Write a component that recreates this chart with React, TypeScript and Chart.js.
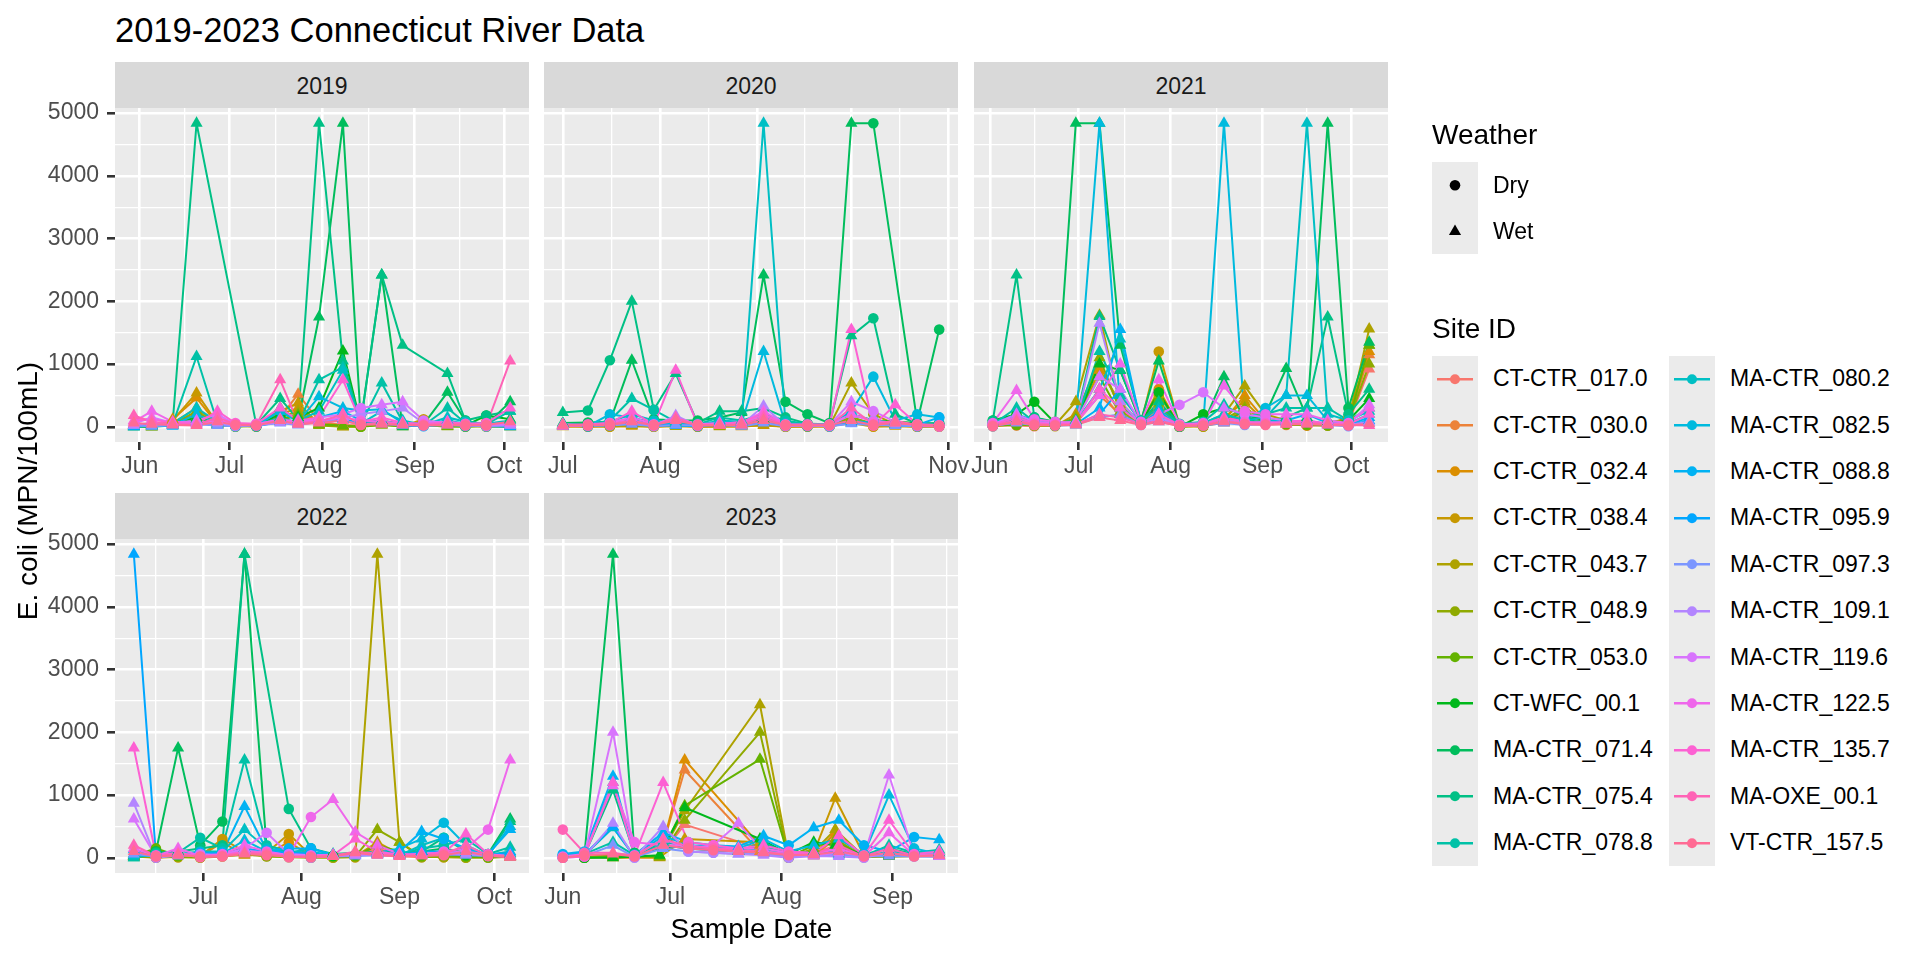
import React, { useEffect, useRef } from "react";
import { Chart, registerables } from "chart.js";
Chart.register(...registerables);

const FONT = '"Liberation Sans", Arial, Helvetica, sans-serif';

// ---------------- data ----------------
const siteIds = [
  "CT-CTR_017.0", "CT-CTR_030.0", "CT-CTR_032.4", "CT-CTR_038.4", "CT-CTR_043.7",
  "CT-CTR_048.9", "CT-CTR_053.0", "CT-WFC_00.1", "MA-CTR_071.4", "MA-CTR_075.4",
  "MA-CTR_078.8", "MA-CTR_080.2", "MA-CTR_082.5", "MA-CTR_088.8", "MA-CTR_095.9",
  "MA-CTR_097.3", "MA-CTR_109.1", "MA-CTR_119.6", "MA-CTR_122.5", "MA-CTR_135.7",
  "MA-OXE_00.1", "VT-CTR_157.5",
];
const weatherLevels = ["Dry", "Wet"];
const monthLabels = ["Jan", "Feb", "Mar", "Apr", "May", "Jun", "Jul", "Aug", "Sep", "Oct", "Nov", "Dec"];
const yBreaks = [0, 1000, 2000, 3000, 4000, 5000];
const yMinorBreaks = [500, 1500, 2500, 3500, 4500];
const years = [2019, 2020, 2021, 2022, 2023];

const n = null;

const dates2019 = ["05-30", "06-05", "06-12", "06-20", "06-27", "07-03", "07-10", "07-18", "07-24", "07-31", "08-08", "08-14", "08-21", "08-28", "09-04", "09-12", "09-18", "09-25", "10-03"];
const weatherCT2019 = ["W", "W", "W", "W", "W", "D", "D", "W", "W", "W", "W", "D", "W", "W", "D", "W", "D", "D", "W"];
const weatherMA2019 = ["W", "W", "W", "W", "W", "D", "D", "W", "W", "W", "W", "D", "W", "W", "D", "W", "D", "D", "W"];
const values2019 = [
  [40, 20, 60, 150, 80, 30, 20, 90, 200, 60, 30, 20, 40, 30, 20, 10, 20, 60, 30],
  [30, 10, 80, 200, 60, 20, 30, 150, 520, 90, 20, 10, 60, 20, 30, 20, 10, 80, 20],
  [20, 0, 120, 460, 40, 20, 10, 200, 300, 50, 0, 10, 30, 20, 90, 10, 30, 20, 10],
  [10, 0, 100, 540, 50, 10, 20, 250, 380, 40, 0, 20, 50, 10, 120, 20, 10, 30, 20],
  [0, 10, 60, 300, 30, 20, 0, 150, 250, 30, 10, 0, 80, 20, 60, 10, 20, 10, 0],
  [10, 0, 40, 250, 20, 10, 10, 100, 200, 20, 0, 10, 40, 0, 30, 0, 10, 0, 10],
  [20, 10, 30, 200, 40, 0, 20, 120, 180, 40, 20, 0, 30, 10, 20, 10, 0, 20, 0],
  [30, 20, 50, 150, 60, 20, 30, 200, 150, 300, 1210, 50, 100, 40, 30, 60, 20, 180, 120],
  [10, 0, 20, 120, 40, 30, 10, 300, 100, 1750, 4840, 80, 2420, 0, 40, 550, 100, 30, 400],
  [0, 10, 60, 4840, n, n, 30, 450, 120, 4840, 1050, 60, 2420, 1300, n, 850, 100, 180, 250],
  [0, 20, 40, 1120, 60, 40, 20, 150, 60, 750, 950, 40, 700, 80, 20, 300, 60, 40, 250],
  [10, 30, 50, 300, 80, 20, 30, 250, 100, 250, 900, 50, 250, 100, 30, 150, 80, 50, 100],
  [20, 40, 30, 200, 60, 30, 20, 250, 80, 480, 300, 260, 280, 60, 40, 100, 50, 30, 60],
  [0, 20, 10, 80, 40, 10, 20, 120, 50, 150, 250, 100, 90, 40, 20, 60, 20, 10, 0],
  [10, 30, 20, 60, 30, 20, 10, 80, 40, 100, 120, 60, 50, 20, 10, 40, 10, 20, 10],
  [20, 10, 30, 40, 20, 10, 20, 60, 30, 80, 100, 40, 60, 30, 20, 30, 20, 10, 20],
  [30, 60, 40, 80, 60, 20, 30, 70, 40, 90, 150, 200, 250, 300, 60, 80, 30, 20, 30],
  [50, 150, 60, 100, 200, 40, 50, 100, 60, 150, 200, 300, 350, 400, 100, 60, 40, 30, 50],
  [80, 250, 80, 60, 100, 50, 40, 120, 80, 100, 150, 100, 80, 60, 50, 40, 30, 40, 60],
  [100, 120, 60, 50, 250, 60, 50, 300, 100, 150, 750, 80, 150, 60, 40, 80, 50, 60, 300],
  [180, 80, 40, 30, 150, 40, 30, 750, 60, 80, 200, 40, 60, 40, 30, 50, 40, 20, 1050],
  [60, 40, 30, 20, 80, 30, 20, 100, 40, 60, 100, 30, 40, 30, 20, 30, 20, 30, 80],
];

const dates2020 = ["07-01", "07-09", "07-16", "07-23", "07-30", "08-06", "08-13", "08-20", "08-27", "09-03", "09-10", "09-17", "09-24", "10-01", "10-08", "10-15", "10-22", "10-29"];
const weatherCT2020 = ["W", "D", "D", "W", "D", "W", "D", "W", "W", "W", "D", "D", "D", "W", "D", "W", "D", "D"];
const weatherMA2020 = ["W", "D", "D", "W", "D", "W", "D", "W", "W", "W", "D", "D", "D", "W", "D", "W", "D", "D"];
const values2020 = [
  [20, 10, 20, 30, 10, 20, 10, 20, 30, 60, 10, 20, 10, 150, 30, 60, 20, 10],
  [30, 20, 10, 40, 20, 30, 20, 10, 20, 80, 20, 10, 20, 120, 20, 40, 10, 20],
  [10, 0, 10, 20, 0, 20, 0, 10, 0, 30, 0, 10, 0, 80, 10, 20, 0, 0],
  [0, 10, 0, 10, 0, 10, 0, 0, 10, 20, 0, 0, 10, 60, 0, 10, 0, 10],
  [10, 20, 10, 30, 10, 20, 10, 20, 10, 50, 10, 20, 10, 700, 200, 40, 10, 20],
  [20, 10, 20, 40, 20, 10, 20, 10, 20, 60, 20, 10, 20, 150, 50, 30, 20, 10],
  [10, 20, 30, 50, 20, 30, 20, 30, 40, 80, 20, 30, 20, 100, 40, 50, 30, 20],
  [40, 60, 50, 100, 60, 80, 50, 60, 80, 120, 60, 50, 40, 200, 100, 80, 60, 50],
  [60, 70, 80, 1060, 120, 100, 100, 150, 230, 2420, 400, 200, 60, 4840, 4840, n, 80, 1550],
  [230, 260, 1060, 2000, 270, 850, 60, 250, 250, 300, 150, 50, 40, 1450, 1730, 200, 50, 60],
  [50, 30, 100, 450, 270, 80, 40, 150, 100, 200, 100, 40, 30, 200, 100, 60, 40, 30],
  [30, 20, 80, 200, 100, 60, 30, 100, 80, 4840, 60, 30, 20, 100, 60, 40, 30, 20],
  [20, 10, 200, 150, 60, 40, 20, 80, 60, 1200, 40, 20, 10, 250, 800, 100, 200, 150],
  [10, 20, 50, 100, 40, 30, 20, 60, 40, 150, 30, 20, 10, 80, 60, 40, 30, 150],
  [20, 10, 30, 60, 20, 20, 10, 40, 20, 80, 20, 10, 20, 60, 40, 20, 10, 20],
  [10, 20, 20, 40, 10, 30, 20, 30, 10, 60, 10, 20, 10, 50, 30, 20, 10, 10],
  [20, 30, 40, 80, 20, 180, 20, 40, 30, 330, 20, 30, 20, 200, 100, 60, 20, 10],
  [30, 20, 50, 100, 30, 150, 30, 50, 40, 200, 30, 20, 30, 400, 250, 80, 30, 20],
  [40, 30, 60, 150, 40, 120, 40, 60, 50, 250, 40, 30, 40, 200, 80, 60, 40, 30],
  [20, 40, 60, 250, 30, 900, 30, 40, 80, 200, 30, 40, 30, 1550, 20, 350, 40, 10],
  [10, 30, 40, 100, 20, 150, 20, 30, 40, 150, 20, 30, 20, 300, 40, 100, 20, 10],
  [30, 20, 30, 80, 30, 100, 30, 20, 30, 100, 30, 20, 30, 100, 30, 60, 30, 20],
];

const dates2021 = ["06-02", "06-10", "06-16", "06-23", "06-30", "07-08", "07-15", "07-22", "07-28", "08-04", "08-12", "08-19", "08-26", "09-02", "09-09", "09-16", "09-23", "09-30", "10-07"];
const weatherCT2021 = ["D", "D", "D", "D", "W", "W", "W", "D", "D", "D", "D", "W", "W", "D", "D", "D", "D", "D", "W"];
const weatherMA2021 = ["D", "W", "D", "D", "W", "W", "W", "D", "W", "D", "D", "W", "D", "D", "W", "W", "W", "D", "W"];
const values2021 = [
  [20, 30, 10, 20, 40, 600, 150, 60, 300, 20, 10, 80, 200, 60, 40, 20, 30, 60, 920],
  [30, 20, 20, 30, 60, 500, 200, 40, 250, 10, 20, 60, 300, 80, 30, 30, 20, 80, 1150],
  [10, 40, 30, 20, 80, 900, 400, 50, 600, 0, 10, 100, 500, 100, 50, 20, 40, 150, 1200],
  [20, 50, 20, 10, 200, 1000, 300, 60, 1200, 20, 0, 150, 400, 80, 60, 40, 20, 100, 1300],
  [40, 60, 30, 30, 400, 1780, 350, 80, 500, 30, 20, 200, 650, 200, 100, 50, 60, 120, 1560],
  [30, 40, 20, 20, 150, 1100, 250, 60, 350, 20, 10, 120, 300, 100, 50, 30, 40, 80, 1000],
  [20, 30, 40, 30, 100, 800, 200, 50, 400, 0, 20, 80, 250, 60, 40, 30, 20, 60, 1300],
  [100, 200, 400, 60, 80, 1000, 900, 60, 550, 0, 200, 300, 200, 100, 80, 60, 50, 100, 450],
  [60, 100, 150, 80, 4840, 4840, 1300, 100, 1050, 30, 50, 800, 100, 200, 930, 150, 4840, 300, 1350],
  [100, 2420, 150, 60, 100, 1760, 900, 80, 400, 50, 60, 200, 100, 80, 150, 300, 1750, 200, 600],
  [40, 300, 80, 50, 60, 1200, 500, 100, 300, 40, 80, 350, 150, 200, 300, 300, 300, 100, 300],
  [30, 150, 60, 40, 80, 600, 1400, 60, 200, 30, 60, 200, 100, 150, 500, 4840, 200, 100, 250],
  [50, 200, 100, 40, 60, 4840, 300, 80, 150, 40, 30, 4840, 100, 300, 500, 500, 100, 50, 200],
  [20, 100, 50, 30, 40, 300, 1550, 50, 100, 20, 40, 100, 50, 80, 100, 200, 60, 30, 150],
  [10, 80, 40, 20, 30, 200, 600, 40, 250, 10, 30, 80, 40, 60, 80, 100, 40, 20, 100],
  [20, 60, 30, 30, 40, 150, 200, 30, 80, 20, 20, 60, 30, 40, 60, 80, 30, 10, 60],
  [30, 100, 50, 40, 60, 1650, 400, 50, 150, 30, 40, 120, 60, 80, 50, 60, 50, 30, 80],
  [40, 200, 80, 60, 80, 800, 600, 60, 200, 350, 550, 300, 200, 150, 100, 80, 60, 50, 350],
  [60, 580, 120, 80, 60, 500, 1000, 80, 750, 40, 60, 650, 250, 200, 200, 200, 100, 60, 300],
  [30, 150, 60, 40, 50, 600, 300, 50, 200, 30, 40, 150, 80, 60, 80, 100, 50, 40, 200],
  [20, 100, 40, 30, 40, 200, 150, 40, 100, 20, 30, 100, 50, 40, 50, 60, 40, 30, 20],
  [10, 80, 30, 20, 30, 150, 100, 30, 80, 10, 20, 80, 40, 30, 40, 40, 30, 20, 50],
];

const dates2022 = ["06-09", "06-16", "06-23", "06-30", "07-07", "07-14", "07-21", "07-28", "08-04", "08-11", "08-18", "08-25", "09-01", "09-08", "09-15", "09-22", "09-29", "10-06"];
const weatherCT2022 = ["W", "D", "D", "D", "D", "W", "D", "D", "D", "D", "D", "W", "W", "D", "D", "D", "D", "W"];
const weatherMA2022 = ["W", "D", "W", "D", "D", "W", "D", "D", "D", "W", "W", "W", "W", "W", "D", "W", "D", "W"];
const values2022 = [
  [20, 10, 30, 20, 40, 60, 30, 20, 10, 20, 30, 150, 40, 20, 30, 40, 20, 30],
  [10, 20, 20, 10, 60, 80, 40, 30, 20, 10, 20, 100, 30, 10, 20, 30, 10, 20],
  [30, 10, 10, 20, 250, 40, 60, 250, 30, 20, 10, 200, 50, 20, 10, 20, 30, 10],
  [20, 0, 20, 30, 300, 100, 80, 380, 40, 30, 20, 250, 60, 30, 20, 10, 20, 20],
  [10, 20, 10, 0, 20, 50, 30, 20, 10, 0, 10, 4840, 250, 20, 10, 0, 10, 10],
  [20, 10, 20, 10, 30, 80, 20, 10, 0, 10, 20, 450, 250, 10, 20, 10, 0, 20],
  [30, 150, 30, 20, 40, 100, 40, 30, 20, 20, 30, 200, 100, 30, 40, 20, 10, 30],
  [40, 100, 60, 50, 80, 150, 60, 50, 40, 30, 50, 100, 80, 50, 60, 40, 30, 60],
  [60, 100, 1750, 200, 580, 4840, 150, 100, 60, 40, 80, 60, 50, 100, 150, 80, 60, 620],
  [0, 80, 100, 150, 200, 4840, n, 780, 150, 60, 80, 60, 50, 100, 320, 100, 40, 580],
  [0, 60, 80, 320, 150, 1560, 200, 100, 80, 50, 60, 80, 60, 150, 200, 300, 60, 170],
  [30, 40, 60, 100, 100, 450, 150, 80, 150, 40, 60, 100, 40, 200, 320, 120, 50, 100],
  [50, 20, 40, 80, 60, 280, 100, 60, 100, 30, 40, 80, 150, 300, 560, 200, 40, 500],
  [130, 30, 60, 60, 80, 820, 120, 150, 150, 50, 40, 60, 100, 420, 300, 150, 60, 450],
  [4840, 40, 50, 80, 60, 150, 100, 80, 60, 30, 50, 60, 40, 100, 100, 80, 40, 80],
  [60, 20, 30, 50, 40, 100, 60, 40, 30, 20, 30, 40, 30, 60, 60, 40, 30, 40],
  [870, 0, 40, 60, 40, 120, 80, 50, 0, 30, 40, 50, 20, 40, 50, 60, 30, 20],
  [620, 20, 60, 40, 50, 150, 400, 60, 40, 50, 60, 80, 40, 60, 80, 100, 50, 30],
  [150, 30, 150, 30, 60, 200, 100, 40, 650, 930, 410, 200, 60, 40, 100, 150, 450, 1560],
  [1750, 40, 80, 20, 40, 100, 80, 20, 30, 40, 300, 100, 50, 60, 80, 380, 60, 20],
  [200, 30, 60, 10, 30, 80, 60, 10, 20, 30, 100, 60, 30, 40, 60, 200, 40, 10],
  [100, 20, 40, 20, 20, 60, 40, 20, 10, 20, 80, 40, 20, 30, 40, 100, 30, 20],
];

const dates2023 = ["06-01", "06-07", "06-15", "06-21", "06-28", "06-29", "07-05", "07-06", "07-13", "07-20", "07-26", "07-27", "08-03", "08-10", "08-16", "08-17", "08-24", "08-31", "09-07", "09-14"];
const weatherCT2023 = ["D", "D", "W", "D", "W", "W", "W", "D", "D", "W", "W", "W", "D", "W", "W", "W", "D", "W", "D", "W"];
const weatherMA2023 = ["D", "D", "W", "D", "W", "W", "W", "D", "D", "W", "W", "W", "D", "W", "W", "W", "D", "W", "D", "W"];
const values2023 = [
  [n, 10, 20, n, 30, n, 530, n, n, n, 150, n, 40, 60, 200, n, 30, 50, n, 80],
  [n, 0, 10, n, 20, n, 1400, n, n, n, 100, n, 20, 30, 300, n, 20, 40, n, 60],
  [n, 20, 0, n, 0, n, 1560, n, n, n, 200, n, 30, 40, 400, n, 30, 20, n, 40],
  [n, 10, 30, n, 10, n, 300, n, n, n, 250, n, 50, 80, 950, n, 40, 30, n, 50],
  [n, 0, 60, n, 20, n, 750, n, n, n, 2440, n, 20, 100, 450, n, 20, 30, n, 40],
  [n, 10, 40, n, 10, n, 600, n, n, n, 2000, n, 0, 150, 300, n, 10, 20, n, 30],
  [n, 0, 20, n, 30, n, 830, n, n, n, 1570, n, 10, 200, 250, n, 30, 40, n, 20],
  [n, 0, 0, n, 40, n, 800, n, n, n, 300, n, 60, 250, 200, n, 50, 30, n, 100],
  [20, 30, 4840, 80, n, 150, n, 200, 150, 100, n, 80, 60, 100, n, 80, 40, 60, 50, 40],
  [0, 40, 1080, 60, n, 200, n, 150, 120, 100, n, 250, 50, 80, n, 100, 50, 150, 60, 80],
  [30, 60, 250, 40, n, 250, n, 180, 150, 120, n, 200, 40, 60, n, 60, 30, 200, 80, 130],
  [10, 40, 480, 20, n, 300, n, 160, 140, 100, n, 150, 30, 50, n, 50, 20, 100, 60, 100],
  [40, 80, 1200, 30, n, 350, n, 200, 180, 150, n, 300, 100, 200, n, 300, 60, 1000, 150, 60],
  [60, 100, 1300, 50, n, 400, n, 250, 200, 180, n, 350, 200, 480, n, 600, 200, 100, 330, 290],
  [20, 50, 500, 20, n, 200, n, 150, 120, 100, n, 100, 40, 80, n, 100, 30, 60, 40, 30],
  [10, 30, 200, 10, n, 150, n, 100, 80, 60, n, 60, 20, 50, n, 40, 20, 30, 20, 20],
  [0, 20, 550, 0, n, 500, n, 100, 80, 60, n, 40, 0, 30, n, 20, 0, 80, 30, 20],
  [10, 40, 2000, 30, n, 300, n, 150, 200, 550, n, 100, 60, 40, n, 80, 30, 1320, 50, 60],
  [20, 60, 1150, 250, n, 200, n, 200, 150, 150, n, 150, 80, 60, n, 150, 20, 400, 40, 30],
  [0, 20, 1200, 40, n, 1200, n, 250, 200, 150, n, 200, 100, 80, n, 350, 40, 600, 60, 100],
  [450, 80, 80, 30, n, 300, n, 180, 150, 120, n, 100, 50, 60, n, 200, 20, 150, 30, 50],
  [0, 40, 60, 20, n, 200, n, 150, 120, 100, n, 80, 40, 50, n, 100, 30, 80, 20, 40],
];

const yearDates = [dates2019, dates2020, dates2021, dates2022, dates2023];
const yearWeatherCT = [weatherCT2019, weatherCT2020, weatherCT2021, weatherCT2022, weatherCT2023];
const yearWeatherMA = [weatherMA2019, weatherMA2020, weatherMA2021, weatherMA2022, weatherMA2023];
const yearValues = [values2019, values2020, values2021, values2022, values2023];

// ---------------- styling helpers ----------------
function hclHex(h: number, c = 100, l = 65): string {
  const hr = (h * Math.PI) / 180;
  const U = c * Math.cos(hr);
  const V = c * Math.sin(hr);
  const Xn = 95.047, Yn = 100.0, Zn = 108.883;
  const Y = Yn * Math.pow((l + 16) / 116, 3);
  const t = Xn + 15 * Yn + 3 * Zn;
  const un = (4 * Xn) / t;
  const vn = (9 * Yn) / t;
  const u = U / (13 * l) + un;
  const v = V / (13 * l) + vn;
  const X = (Y * 9 * u) / (4 * v);
  const Z = (Y * (12 - 3 * u - 20 * v)) / (4 * v);
  const lin = [
    (3.240479 * X - 1.53715 * Y - 0.498535 * Z) / 100,
    (-0.969256 * X + 1.875992 * Y + 0.041556 * Z) / 100,
    (0.055648 * X - 0.204043 * Y + 1.057311 * Z) / 100,
  ];
  return (
    "#" +
    lin
      .map((q) => {
        const g = q <= 0.0031308 ? 12.92 * q : 1.055 * Math.pow(q, 1 / 2.4) - 0.055;
        const b = Math.round(Math.max(0, Math.min(1, g)) * 255);
        return b.toString(16).padStart(2, "0");
      })
      .join("")
  );
}
const siteColors = siteIds.map((_, i) => hclHex(15 + (360 / siteIds.length) * i));

function doy(year: number, md: string): number {
  const [m, d] = md.split("-").map(Number);
  return (Date.UTC(year, m - 1, d) - Date.UTC(year, 0, 1)) / 86400000;
}

// y range with ggplot-like 5% expansion
const allVals: number[] = [];
yearValues.forEach((yv) => yv.forEach((row) => row.forEach((v) => { if (v !== null) allVals.push(v as number); })));
const yLo = Math.min(...allVals);
const yHi = Math.max(...allVals);
const Y_MIN = yLo - 0.05 * (yHi - yLo);
const Y_MAX = yHi + 0.05 * (yHi - yLo);

// ---------------- layout ----------------
const PANEL_W = 414;
const PANEL_H = 334;
const STRIP_H = 46;
const COL_LEFT = [115, 544, 974];
const ROW_TOP = [108, 539];
const PAD_T = 30;
const PAD_S = 45;
const YAXIS_W = 115;
const XAXIS_H = 60;

const panelBg = {
  id: "panelBg",
  beforeDraw(chart: any) {
    const { ctx, chartArea: a } = chart;
    ctx.save();
    ctx.fillStyle = "#EBEBEB";
    ctx.fillRect(a.left, a.top, a.right - a.left, a.bottom - a.top);
    ctx.restore();
  },
};

function Panel({ yi, col, row }: { yi: number; col: number; row: number }) {
  const ref = useRef<HTMLCanvasElement | null>(null);
  const showY = col === 0;
  const year = years[yi];
  const canvasLeft = showY ? COL_LEFT[col] - YAXIS_W : COL_LEFT[col] - PAD_S;
  const canvasW = (showY ? YAXIS_W : PAD_S) + PANEL_W + PAD_S;
  const canvasTop = ROW_TOP[row] - PAD_T;
  const canvasH = PAD_T + PANEL_H + XAXIS_H;

  useEffect(() => {
    const dates = yearDates[yi];
    const wCT = yearWeatherCT[yi];
    const wMA = yearWeatherMA[yi];
    const vals = yearValues[yi];
    const xs = dates.map((d) => doy(year, d));
    const used: number[] = [];
    vals.forEach((r) => r.forEach((v, j) => { if (v !== null) used.push(xs[j]); }));
    const x0 = Math.min(...used);
    const x1 = Math.max(...used);
    const xMin = x0 - 0.05 * (x1 - x0);
    const xMax = x1 + 0.05 * (x1 - x0);

    const monthStarts: number[] = [];
    for (let m = 0; m <= 12; m++) monthStarts.push((Date.UTC(year, m, 1) - Date.UTC(year, 0, 1)) / 86400000);
    const majorMap = new Map<number, string>();
    monthStarts.forEach((v, m) => { if (v >= xMin && v <= xMax && m < 12) majorMap.set(v, monthLabels[m]); });
    const minors: number[] = [];
    for (let m = 0; m < 12; m++) {
      const mid = (monthStarts[m] + monthStarts[m + 1]) / 2;
      if (mid >= xMin && mid <= xMax) minors.push(mid);
    }
    const xTickVals = [...majorMap.keys(), ...minors].sort((a, b) => a - b);
    const yTickVals = [...yBreaks, ...yMinorBreaks].filter((v) => v >= Y_MIN && v <= Y_MAX).sort((a, b) => a - b);
    const isYMajor = (v: number) => yBreaks.includes(v);

    const lineSets: any[] = [];
    const pointSets: any[] = [];
    siteIds.forEach((site, i) => {
      const pts: any[] = [];
      const styles: string[] = [];
      const radii: number[] = [];
      vals[i].forEach((v, j) => {
        if (v === null) return;
        const w = (i < 8 ? wCT : wMA)[j];
        pts.push({ x: xs[j], y: v });
        styles.push(w === "W" ? "triangle" : "circle");
        radii.push(w === "W" ? 7 : 5.3);
      });
      lineSets.push({
        label: site,
        data: pts,
        borderColor: siteColors[i],
        backgroundColor: siteColors[i],
        borderWidth: 2,
        pointRadius: 0,
        pointHoverRadius: 0,
        fill: false,
        tension: 0,
        spanGaps: true,
        order: 100 + (siteIds.length - 1 - i),
      });
      pointSets.push({
        label: site + " pts",
        data: pts,
        showLine: false,
        borderColor: siteColors[i],
        backgroundColor: siteColors[i],
        pointBackgroundColor: siteColors[i],
        pointBorderWidth: 0,
        pointStyle: styles,
        pointRadius: radii,
        pointHoverRadius: radii,
        order: siteIds.length - 1 - i,
      });
    });

    const chart = new Chart(ref.current as HTMLCanvasElement, {
      type: "line",
      data: { datasets: [...lineSets, ...pointSets] },
      options: {
        animation: false,
        responsive: false,
        maintainAspectRatio: false,
        events: [],
        layout: { padding: { top: PAD_T, right: PAD_S, bottom: 0, left: showY ? 0 : PAD_S } },
        plugins: { legend: { display: false }, tooltip: { enabled: false }, title: { display: false } },
        scales: {
          x: {
            type: "linear",
            min: xMin,
            max: xMax,
            afterBuildTicks: (s: any) => { s.ticks = xTickVals.map((v) => ({ value: v })); },
            afterFit: (s: any) => { s.height = XAXIS_H; },
            ticks: {
              autoSkip: false,
              maxRotation: 0,
              minRotation: 0,
              padding: 3,
              color: "#4D4D4D",
              font: { family: FONT, size: 23 },
              callback: (v: any) => majorMap.get(Number(v)) ?? "",
            },
            grid: {
              color: "#FFFFFF",
              lineWidth: (c: any) => (majorMap.has(c.tick?.value) ? 2.6 : 1.3),
              drawTicks: true,
              tickLength: 8,
              tickWidth: 2.6,
              tickColor: (c: any) => (majorMap.has(c.tick?.value) ? "#333333" : "rgba(0,0,0,0)"),
            },
            border: { display: false },
          },
          y: {
            type: "linear",
            min: Y_MIN,
            max: Y_MAX,
            afterBuildTicks: (s: any) => { s.ticks = yTickVals.map((v) => ({ value: v })); },
            afterFit: (s: any) => { s.width = showY ? YAXIS_W : 0; },
            ticks: {
              display: showY,
              autoSkip: false,
              padding: 8,
              color: "#4D4D4D",
              font: { family: FONT, size: 23 },
              callback: (v: any) => (isYMajor(Number(v)) ? String(v) : ""),
            },
            grid: {
              color: "#FFFFFF",
              lineWidth: (c: any) => (isYMajor(c.tick?.value) ? 2.6 : 1.3),
              drawTicks: showY,
              tickLength: 8,
              tickWidth: 2.6,
              tickColor: (c: any) => (showY && isYMajor(c.tick?.value) ? "#333333" : "rgba(0,0,0,0)"),
            },
            border: { display: false },
          },
        },
      } as any,
      plugins: [panelBg],
    });
    return () => chart.destroy();
  }, []);

  return (
    <>
      <div
        style={{
          position: "absolute",
          left: COL_LEFT[col],
          top: ROW_TOP[row] - STRIP_H,
          width: PANEL_W,
          height: STRIP_H,
          background: "#D9D9D9",
          color: "#1A1A1A",
          fontFamily: FONT,
          fontSize: 23,
          lineHeight: STRIP_H + 2 + "px",
          textAlign: "center",
        }}
      >
        {year}
      </div>
      <canvas
        ref={ref}
        width={canvasW}
        height={canvasH}
        style={{ position: "absolute", left: canvasLeft, top: canvasTop, width: canvasW, height: canvasH }}
      />
    </>
  );
}

const panelPlacement = [
  { col: 0, row: 0 },
  { col: 1, row: 0 },
  { col: 2, row: 0 },
  { col: 0, row: 1 },
  { col: 1, row: 1 },
];

const LEG_X = 1432;
const KEY_W = 46;
const ROW_H = 46.4;

function Legend() {
  const txt = (s: string, left: number, cy: number, size: number) => (
    <div
      key={s + left + cy}
      style={{
        position: "absolute",
        left,
        top: cy - size / 2,
        height: size,
        lineHeight: size + "px",
        fontFamily: FONT,
        fontSize: size,
        color: "#000",
        whiteSpace: "nowrap",
      }}
    >
      {s}
    </div>
  );
  const wTop = 162;
  const sTop = 355.5;
  const cols = [0, 1];
  return (
    <>
      <div style={{ position: "absolute", left: LEG_X, top: 121, fontFamily: FONT, fontSize: 28, lineHeight: "28px", color: "#000" }}>Weather</div>
      <div style={{ position: "absolute", left: LEG_X, top: wTop, width: KEY_W, height: ROW_H * 2 - 1, background: "#EBEBEB" }} />
      <svg style={{ position: "absolute", left: LEG_X, top: wTop }} width={KEY_W} height={ROW_H * 2}>
        <circle cx={KEY_W / 2} cy={ROW_H / 2} r={5.3} fill="#000" />
        <polygon
          points={`${KEY_W / 2},${ROW_H * 1.5 - 7} ${KEY_W / 2 + 6.06},${ROW_H * 1.5 + 3.5} ${KEY_W / 2 - 6.06},${ROW_H * 1.5 + 3.5}`}
          fill="#000"
        />
      </svg>
      {weatherLevels.map((w, k) => txt(w, 1493, wTop + ROW_H * (k + 0.5), 23))}

      <div style={{ position: "absolute", left: LEG_X, top: 315.3, fontFamily: FONT, fontSize: 28, lineHeight: "28px", color: "#000" }}>Site ID</div>
      {cols.map((c) => (
        <div
          key={"bg" + c}
          style={{ position: "absolute", left: LEG_X + c * 237, top: sTop, width: KEY_W, height: ROW_H * 11, background: "#EBEBEB" }}
        />
      ))}
      {siteIds.map((s, i) => {
        const c = Math.floor(i / 11);
        const r = i % 11;
        const kx = LEG_X + c * 237;
        const cy = sTop + ROW_H * (r + 0.5);
        return (
          <React.Fragment key={s}>
            <svg style={{ position: "absolute", left: kx, top: cy - ROW_H / 2 }} width={KEY_W} height={ROW_H}>
              <line x1={5} x2={KEY_W - 5} y1={ROW_H / 2} y2={ROW_H / 2} stroke={siteColors[i]} strokeWidth={2.4} />
              <circle cx={KEY_W / 2} cy={ROW_H / 2} r={5} fill={siteColors[i]} />
            </svg>
            {txt(s, kx + 61, cy, 23)}
          </React.Fragment>
        );
      })}
    </>
  );
}

export default function App() {
  return (
    <div
      style={{
        position: "absolute",
        left: 0,
        top: 0,
        width: 1920,
        height: 960,
        background: "#FFFFFF",
        overflow: "hidden",
      }}
    >
      <div
        style={{
          position: "absolute",
          left: 115,
          top: 13,
          fontFamily: FONT,
          fontSize: 34.5,
          lineHeight: "34.5px",
          color: "#000",
          whiteSpace: "nowrap",
        }}
      >
        2019-2023 Connecticut River Data
      </div>
      {years.map((y, yi) => (
        <Panel key={y} yi={yi} col={panelPlacement[yi].col} row={panelPlacement[yi].row} />
      ))}
      <div
        style={{
          position: "absolute",
          left: 27.6 - 250,
          top: 490.5 - 14,
          width: 500,
          height: 28,
          lineHeight: "28px",
          textAlign: "center",
          fontFamily: FONT,
          fontSize: 28,
          color: "#000",
          transform: "rotate(-90deg)",
          whiteSpace: "nowrap",
        }}
      >
        E. coli (MPN/100mL)
      </div>
      <div
        style={{
          position: "absolute",
          left: 751.5 - 200,
          top: 915.3,
          width: 400,
          height: 28,
          lineHeight: "28px",
          textAlign: "center",
          fontFamily: FONT,
          fontSize: 28,
          color: "#000",
          whiteSpace: "nowrap",
        }}
      >
        Sample Date
      </div>
      <Legend />
    </div>
  );
}
